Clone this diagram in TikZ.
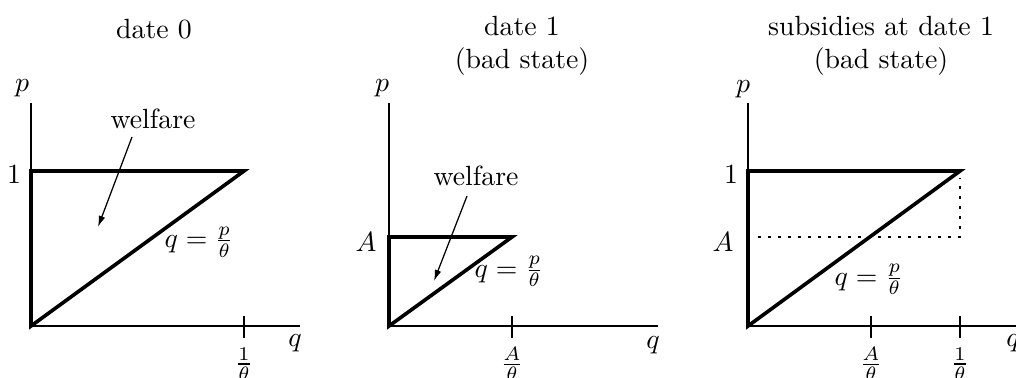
\documentclass[tikz,border=0pt]{standalone}
\usetikzlibrary{arrows.meta}
\begin{document}
\begin{tikzpicture}[x=0.36pt,y=-0.36pt,
  axis/.style={line width=0.45pt},
  bound/.style={line width=1.3pt},
  dots/.style={line width=1pt, dash pattern=on 1pt off 2.6pt},
  arr/.style={line width=0.45pt,-{Latex[length=4pt,width=2.4pt]}},
  tick/.style={line width=0.45pt}]
\useasboundingbox (0,0) rectangle (1016,378);
\clip (0,0) rectangle (1016,378);

% ---------- panel 1 ----------
\coordinate (o1) at (31,326);
\coordinate (y1) at (31,103);
\coordinate (x1) at (300,326);
\coordinate (c1) at (31,171);
\coordinate (r1) at (244,171);
\draw[axis] (y1) -- (o1) -- (x1);
\draw[tick] (244,316) -- (244,338);
\draw[bound] (o1) -- (c1) -- (r1) -- cycle;
\node (t1) at (154,29) {date 0};
\node (p1) at (22,88) {$p$};
\node (one1) at (14,175) {$1$};
\node (w1) at (153,119) {welfare};
\coordinate (s1) at (132,137);
\coordinate (e1) at (98,227);
\draw[arr] (s1) -- (e1);
\node (f1) at (199,242) {$q=\frac{p}{\theta}$};
\node (q1) at (295,343) {$q$};
\node (th1) at (244,364) {$\frac{1}{\theta}$};

% ---------- panel 2 ----------
\coordinate (o2) at (389,326);
\coordinate (y2) at (389,103);
\coordinate (x2) at (658,326);
\coordinate (c2) at (389,237);
\coordinate (r2) at (512,237);
\draw[axis] (y2) -- (o2) -- (x2);
\draw[tick] (512,316) -- (512,338);
\draw[bound] (o2) -- (c2) -- (r2) -- cycle;
\node[align=center] (t2) at (522,46) {date 1\\(bad state)};
\node (p2) at (382,88) {$p$};
\node (a2) at (366,242) {$A$};
\node (w2) at (476,176) {welfare};
\coordinate (s2) at (467,196);
\coordinate (e2) at (434,281);
\draw[arr] (s2) -- (e2);
\node (f2) at (509,271.5) {$q=\frac{p}{\theta}$};
\node (q2) at (653,345) {$q$};
\node (th2) at (512,364) {$\frac{A}{\theta}$};

% ---------- panel 3 ----------
\coordinate (o3) at (748,326);
\coordinate (y3) at (748,103);
\coordinate (x3) at (1017,326);
\coordinate (c3) at (748,171);
\coordinate (r3) at (960,171);
\coordinate (d1) at (758,237);
\coordinate (d2) at (960,237);
\coordinate (d3) at (960,178);
\draw[axis] (y3) -- (o3) -- (x3);
\draw[tick] (871,316) -- (871,338);
\draw[tick] (960,316) -- (960,338);
\draw[dots] (d1) -- (d2) -- (d3);
\draw[bound] (o3) -- (c3) -- (r3) -- cycle;
\node[align=center] (t3) at (881,46) {subsidies at date 1\\(bad state)};
\node (p3) at (743,89) {$p$};
\node (one3) at (731,175) {$1$};
\node (a3) at (723,242) {$A$};
\node (f3) at (869,279.5) {$q=\frac{p}{\theta}$};
\node (q3) at (1013,343) {$q$};
\node (th3a) at (871,364) {$\frac{A}{\theta}$};
\node (th3b) at (960,364) {$\frac{1}{\theta}$};
\end{tikzpicture}
\end{document}
